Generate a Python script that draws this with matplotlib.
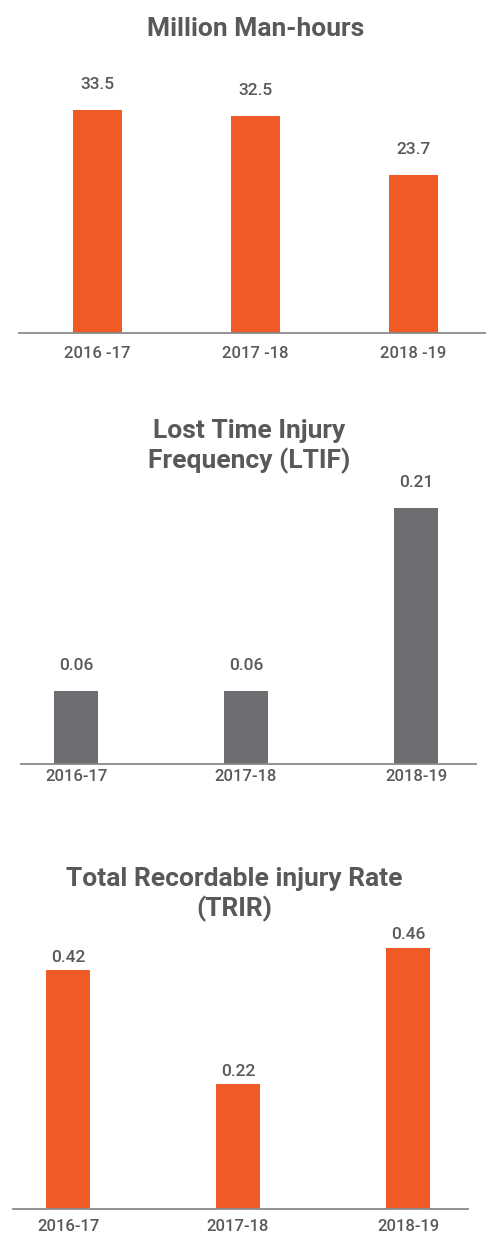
import matplotlib
matplotlib.use("Agg")
import matplotlib.pyplot as plt

plt.rcParams["font.family"] = ["Roboto", "DejaVu Sans"]

W, H = 486, 1236
ORANGE = "#F05A24"
GREY_BAR = "#6D6E71"
TEXT = "#58595B"
AXIS = "#8A8A8A"

# data
years_a = ["2016 -17", "2017 -18", "2018 -19"]
man_hours = [33.5, 32.5, 23.7]

years_b = ["2016-17", "2017-18", "2018-19"]
ltif = [0.06, 0.06, 0.21]
trir = [0.42, 0.22, 0.46]

fig = plt.figure(figsize=(W / 100, H / 100), dpi=100)


def px_axes(left, right, top, bottom):
    # axes rect given in pixels measured from the top-left corner
    return fig.add_axes([left / W, 1 - bottom / H, (right - left) / W, (bottom - top) / H])


def bar_panel(ax, labels, values, color, width, xlim, ylim, label_gap, tick_pad, fmt):
    x = range(len(values))
    ax.bar(x, values, width=width, color=color, zorder=2)
    ax.set_xlim(*xlim)
    ax.set_ylim(*ylim)
    for s in ("top", "left", "right"):
        ax.spines[s].set_visible(False)
    ax.spines["bottom"].set_color(AXIS)
    ax.spines["bottom"].set_linewidth(1.3)
    ax.set_yticks([])
    ax.set_xticks(list(x))
    ax.set_xticklabels(labels, fontsize=12, color=TEXT, fontweight="medium")
    ax.tick_params(axis="x", length=0, pad=tick_pad)
    for xi, v in zip(x, values):
        ax.annotate(fmt.format(v), (xi, v), xytext=(0, label_gap), textcoords="offset points",
                    ha="center", va="baseline", fontsize=12.5, color=TEXT, fontweight="medium")


def title(x_px, top_px, s):
    fig.text(x_px / W, 1 - top_px / H, s, ha="center", va="top", fontsize=19,
             fontweight="bold", color=TEXT, linespacing=1.22)


# Million man-hours
ax1 = px_axes(19, 486, 60, 333)
bar_panel(ax1, years_a, man_hours, ORANGE, 0.31, (-0.497, 2.459), (0, 273 / 6.67),
          15, 9, "{:.1f}")
title(256, 17, "Million Man-hours")

# LTIF
ax2 = px_axes(21, 476, 480, 764)
bar_panel(ax2, years_b, ltif, GREY_BAR, 0.259, (-0.324, 2.353), (0, 284 / 1220),
          15, 3.5, "{:.2f}")
title(249, 419, "Lost Time Injury\nFrequency (LTIF)")

# TRIR
ax3 = px_axes(13, 468, 920, 1209)
bar_panel(ax3, years_b, trir, ORANGE, 0.259, (-0.324, 2.353), (0, 289 / 568),
          6, 7, "{:.2f}")
title(234, 867, "Total Recordable injury Rate\n(TRIR)")

fig.savefig("out.png", dpi=100)
